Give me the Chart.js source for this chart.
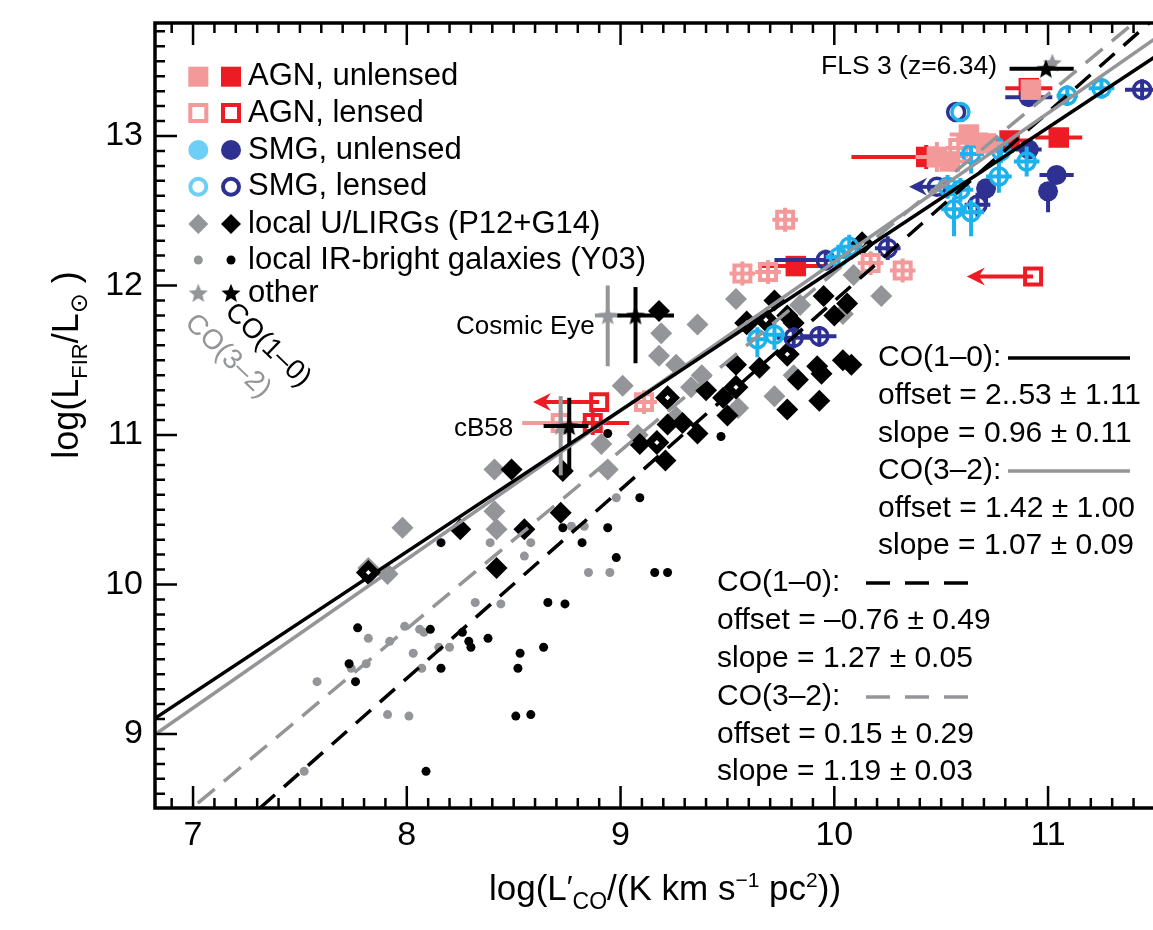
<!DOCTYPE html>
<html><head><meta charset="utf-8">
<script src="https://cdn.jsdelivr.net/npm/chart.js@4.4.1/dist/chart.umd.min.js"></script>
<style>html,body{margin:0;padding:0;background:#fff}canvas{display:block}</style>
</head><body>
<canvas id="c" width="1153" height="930"></canvas>
<script>
// ---------- DATA ----------
// rows: [x, y, xErrLow, xErrHigh, yErrLow, yErrHigh, leftArrowLength]
const X_TICKS = [7, 8, 9, 10, 11];
const Y_TICKS = [9, 10, 11, 12, 13];

const fitCO10All  = [[6.82, 9.103], [11.5, 13.53]];
const fitCO32All  = [[6.82, 8.995], [11.5, 13.65]];
const fitCO10Loc  = [[7.313, 8.505], [11.5, 13.79]];
const fitCO32Loc  = [[6.90, 8.392], [11.5, 13.875]];

const agnUnlensedCO32 = [
  [10.92, 13.31],
  [10.63, 13.01, 0.09, 0.09, 0.06, 0.06],
  [10.71, 12.95, 0.08, 0.08, 0.05, 0.05],
  [10.48, 12.86, 0.10, 0.10, 0.10, 0.10],
  [10.54, 12.83, 0.08, 0.08, 0.06, 0.06]
];
const agnUnlensedCO10 = [
  [11.05, 12.99, 0.11, 0.11, 0.06, 0.06],
  [10.82, 12.97, 0.10, 0.10],
  [10.43, 12.86, 0.35, 0.12, 0.08, 0.08],
  [9.82, 12.13, 0.16, 0.15],
  [10.91, 13.32, 0.11, 0.11]
];
const agnLensedCO32 = [
  [9.77, 12.44, 0.06, 0.06, 0.08, 0.08],
  [9.57, 12.08, 0.06, 0.06, 0.08, 0.08],
  [9.69, 12.09, 0.06, 0.06, 0.08, 0.08],
  [10.17, 12.15, 0.06, 0.06, 0.08, 0.08],
  [10.32, 12.10, 0.06, 0.06, 0.08, 0.08],
  [9.11, 11.22, 0.06, 0.06, 0.08, 0.08],
  [8.72, 11.08, 0.18, 0.10, 0.08, 0.08],
  [10.58, 12.92, 0.06, 0.06, 0.08, 0.08]
];
const agnLensedCO10 = [
  [10.93, 12.06, 0, 0, 0, 0, 0.31],
  [8.90, 11.22, 0, 0, 0, 0, 0.31],
  [8.87, 11.08, 0.08, 0.17, 0.08, 0.08]
];
const smgLensedCO32 = [
  [11.09, 13.27, 0.05, 0.05, 0.07, 0.07],
  [11.25, 13.32, 0.06, 0.06, 0.07, 0.07],
  [10.59, 13.16],
  [10.64, 12.88, 0.06, 0.06, 0.13, 0.13],
  [10.78, 12.90, 0.06, 0.06, 0.08, 0.08],
  [10.90, 12.83, 0.06, 0.06, 0.10, 0.10],
  [10.77, 12.73, 0.06, 0.06, 0.11, 0.26],
  [10.53, 12.66, 0.06, 0.06, 0.08, 0.08],
  [10.59, 12.64, 0.06, 0.06, 0.08, 0.08],
  [10.56, 12.51, 0.06, 0.06, 0.18, 0.08],
  [10.64, 12.49, 0.06, 0.06, 0.16, 0.08],
  [10.07, 12.26, 0.06, 0.06, 0.08, 0.08],
  [10.02, 12.19, 0.06, 0.06, 0.08, 0.08],
  [9.64, 11.64, 0.05, 0.05, 0.12, 0.08],
  [9.72, 11.67, 0.05, 0.05, 0.10, 0.08]
];
const smgLensedCO10 = [
  [11.44, 13.31, 0.08, 0.08, 0.07, 0.07],
  [10.57, 13.16],
  [10.25, 12.25, 0.06, 0.06, 0.08, 0.08],
  [9.96, 12.17, 0.24, 0.05, 0.07, 0.07],
  [10.67, 12.54, 0.06, 0.06, 0.08, 0.08],
  [10.48, 12.66, 0, 0, 0, 0, 0.13],
  [9.81, 11.65, 0.08, 0.08, 0.07, 0.07],
  [9.93, 11.66, 0.08, 0.08, 0.07, 0.07]
];
const smgUnlensedCO10 = [
  [10.91, 13.26, 0.11, 0.11],
  [10.91, 12.91, 0.06, 0.06, 0.06, 0.06],
  [11.04, 12.74, 0.08, 0.08, 0.05, 0.05],
  [11.00, 12.63, 0, 0, 0.14, 0.05],
  [10.71, 12.65, 0, 0, 0.12, 0.04]
];
const lirgCO32 = [
  [8.41, 10.77], [8.41, 10.49], [8.42, 10.37], [7.98, 10.38], [7.82, 10.11], [7.91, 10.07],
  [9.36, 11.74], [9.19, 11.68], [9.18, 11.53], [9.26, 11.47], [9.01, 11.33], [9.54, 11.91],
  [9.72, 11.26], [9.38, 11.40], [9.55, 11.18], [9.33, 11.32], [8.91, 10.94], [9.26, 11.12],
  [9.08, 11.00], [8.94, 10.77], [10.22, 11.93], [10.04, 11.81], [10.09, 12.07], [9.84, 11.87],
  [9.81, 11.40]
];
const lirgCO10 = [
  [8.49, 10.77], [8.25, 10.37], [8.55, 10.37], [8.42, 10.11], [9.18, 11.83], [9.72, 11.90],
  [9.54, 11.47], [9.65, 11.45], [9.40, 11.30], [9.48, 11.25], [9.50, 11.13], [9.29, 11.08],
  [9.36, 11.01], [9.22, 11.07], [9.21, 10.83], [9.09, 10.94], [8.73, 10.76], [8.72, 10.48],
  [9.78, 11.17], [9.93, 11.23], [9.95, 11.93], [10.06, 11.88], [10.00, 11.80], [9.78, 11.80],
  [9.81, 11.75], [10.04, 11.50], [10.08, 11.47], [9.92, 11.46], [9.83, 11.37], [9.94, 11.41]
];
const lirgCO10Lensed = [
  [7.82, 10.08], [9.59, 11.75], [9.68, 11.77], [9.22, 11.25], [9.17, 10.95], [9.54, 11.32],
  [10.13, 12.28], [9.78, 11.54]
];
const y03CO10 = [
  [8.16, 10.28], [7.77, 9.71], [8.11, 9.70], [8.26, 9.68], [8.29, 9.62], [8.30, 9.58],
  [8.38, 9.64], [8.66, 9.88], [8.64, 9.58], [7.73, 9.47], [7.76, 9.35], [8.16, 9.44],
  [8.53, 9.54], [8.52, 9.44], [8.51, 9.12], [8.58, 9.13], [8.09, 8.75], [8.94, 11.01],
  [9.47, 10.99], [9.09, 10.58], [8.73, 10.38], [8.94, 10.38], [8.82, 10.28], [8.98, 10.18],
  [9.16, 10.08], [9.22, 10.08], [8.74, 9.87]
];
const y03CO32 = [
  [8.39, 10.28], [8.58, 10.28], [8.55, 10.19], [8.32, 9.88], [8.44, 9.87], [7.82, 9.64],
  [7.99, 9.72], [8.06, 9.70], [8.08, 9.68], [7.92, 9.62], [8.15, 9.58], [8.20, 9.58],
  [8.03, 9.54], [7.74, 9.44], [7.81, 9.47], [8.07, 9.44], [7.58, 9.35], [7.91, 9.13],
  [8.01, 9.12], [7.52, 8.75], [8.98, 10.58], [8.77, 10.39], [8.83, 10.39], [8.85, 10.08],
  [8.95, 10.08]
];
const otherCO10 = [
  [10.99, 13.45, 0.17, 0.13],              // FLS 3
  [9.07, 11.80, 0.085, 0.18, 0.32, 0.19],  // Cosmic Eye
  [8.76, 11.06, 0.12, 0.09, 0.32, 0.19]    // cB58
];
const otherCO32 = [
  [11.02, 13.49],
  [8.94, 11.80, 0.06, 0.06, 0.34, 0.20],
  [8.72, 11.06, 0, 0, 0.33, 0.20]
];
const legendLabels = ['AGN, unlensed', 'AGN, lensed', 'SMG, unlensed', 'SMG, lensed',
  'local U/LIRGs (P12+G14)', 'local IR-bright galaxies (Y03)', 'other'];
const fitText1 = ['CO(1\u20130):', 'offset = 2..53 \u00b1 1.11', 'slope = 0.96 \u00b1 0.11',
  'CO(3\u20132):', 'offset = 1.42 \u00b1 1.00', 'slope = 1.07 \u00b1 0.09'];
const fitText2 = ['CO(1\u20130):', 'offset = \u20130.76 \u00b1 0.49', 'slope = 1.27 \u00b1 0.05',
  'CO(3\u20132):', 'offset = 0.15 \u00b1 0.29', 'slope = 1.19 \u00b1 0.03'];

// ---------- STYLE ----------
const FONT = "'Liberation Sans', Arial, Helvetica, 'DejaVu Sans', sans-serif";
const PINK = '#F4999A', RED = '#ED1C24', CYAN = '#6DCFF6', CYAN_RING = '#1DB2EC',
      NAVY = '#2E3192', GRAY = '#939598', BLACK = '#000000';
const X_MIN = 6.822, X_MAX = 11.491, Y_MIN = 8.505, Y_MAX = 13.756;

function toPts(arr) {
  return arr.map(r => ({x: r[0], y: r[1], exl: r[2] || 0, exh: r[3] || 0,
    eyl: r[4] || 0, eyh: r[5] || 0, lim: r[6] || 0}));
}
function starCanvas(color, size) {
  const c = document.createElement('canvas'); c.width = size; c.height = size;
  const g = c.getContext('2d'); g.fillStyle = color; g.beginPath();
  const R = size / 2, r = R * 0.45, cx = size / 2, cy = size / 2 + R * 0.08;
  for (let i = 0; i < 10; i++) {
    const a = -Math.PI / 2 + i * Math.PI / 5, rr = i % 2 ? r : R;
    g.lineTo(cx + rr * Math.cos(a), cy + rr * Math.sin(a));
  }
  g.closePath(); g.fill(); return c;
}
const starBlack = starCanvas(BLACK, 20), starGray = starCanvas(GRAY, 20);

function lineDs(arr, color, dash, order) {
  return {data: arr.map(p => ({x: p[0], y: p[1]})), showLine: true, borderColor: color,
    borderWidth: 3.5, borderDash: dash, pointRadius: 0, fill: false, order};
}
function ptDs(arr, style, order) {
  return Object.assign({data: toPts(arr), order, borderWidth: 0}, style);
}
const clear = 'rgba(0,0,0,0)';
const datasets = [
  lineDs(fitCO10All, BLACK, [], 0),
  lineDs(fitCO32All, GRAY, [], 1),
  lineDs(fitCO10Loc, BLACK, [20, 12], 2),
  lineDs(fitCO32Loc, GRAY, [22, 12], 3),
  ptDs(otherCO10, {pointStyle: starBlack, pointRadius: 10, errColor: BLACK}, 4),
  ptDs(otherCO32, {pointStyle: starGray, pointRadius: 10, errColor: GRAY}, 5),
  ptDs(agnUnlensedCO32, {pointStyle: 'rect', pointRadius: 14.5, backgroundColor: PINK, errColor: PINK}, 6),
  ptDs(smgLensedCO32, {pointStyle: 'circle', pointRadius: 8.5, backgroundColor: clear, borderColor: CYAN_RING, borderWidth: 3.5, errColor: CYAN_RING}, 7),
  ptDs(agnLensedCO32, {pointStyle: 'rect', pointRadius: 11.3, backgroundColor: clear, borderColor: PINK, borderWidth: 4, errColor: PINK}, 8),
  ptDs(smgLensedCO10, {pointStyle: 'circle', pointRadius: 8.5, backgroundColor: clear, borderColor: NAVY, borderWidth: 3.5, errColor: NAVY}, 9),
  ptDs(smgUnlensedCO10, {pointStyle: 'circle', pointRadius: 10, backgroundColor: NAVY, errColor: NAVY}, 10),
  ptDs(agnUnlensedCO10, {pointStyle: 'rect', pointRadius: 14.5, backgroundColor: RED, errColor: RED}, 11),
  ptDs(agnLensedCO10, {pointStyle: 'rect', pointRadius: 11.3, backgroundColor: clear, borderColor: RED, borderWidth: 4, errColor: RED}, 12),
  ptDs(lirgCO10Lensed, {pointStyle: 'rectRot', pointRadius: 7.5, backgroundColor: '#ffffff', borderColor: BLACK, borderWidth: 7}, 13),
  ptDs(lirgCO10, {pointStyle: 'rectRot', pointRadius: 11, backgroundColor: BLACK}, 14),
  ptDs(lirgCO32, {pointStyle: 'rectRot', pointRadius: 11, backgroundColor: GRAY}, 15),
  ptDs(y03CO10, {pointStyle: 'circle', pointRadius: 4.5, backgroundColor: BLACK}, 16),
  ptDs(y03CO32, {pointStyle: 'circle', pointRadius: 4.5, backgroundColor: GRAY}, 17)
];

// ---------- PLUGINS ----------
const errorBars = {
  id: 'errorBars',
  beforeDatasetDraw(chart, args) {
    const ds = chart.data.datasets[args.index];
    if (!ds.errColor) return;
    const xs = chart.scales.x, ys = chart.scales.y, ctx = chart.ctx, a = chart.chartArea;
    ctx.save(); ctx.beginPath(); ctx.rect(a.left, a.top, a.right - a.left, a.bottom - a.top); ctx.clip();
    ctx.strokeStyle = ds.errColor; ctx.fillStyle = ds.errColor; ctx.lineWidth = 4;
    ds.data.forEach(p => {
      const px = xs.getPixelForValue(p.x), py = ys.getPixelForValue(p.y);
      ctx.beginPath();
      if (p.exl || p.exh) { ctx.moveTo(xs.getPixelForValue(p.x - p.exl), py); ctx.lineTo(xs.getPixelForValue(p.x + p.exh), py); }
      if (p.eyl || p.eyh) { ctx.moveTo(px, ys.getPixelForValue(p.y - p.eyl)); ctx.lineTo(px, ys.getPixelForValue(p.y + p.eyh)); }
      ctx.stroke();
      if (p.lim) {
        const ex = xs.getPixelForValue(p.x - p.lim);
        ctx.beginPath(); ctx.moveTo(px, py); ctx.lineTo(ex + 8, py); ctx.stroke();
        ctx.beginPath(); ctx.moveTo(ex, py); ctx.lineTo(ex + 18, py - 9); ctx.lineTo(ex + 12, py);
        ctx.lineTo(ex + 18, py + 9); ctx.closePath(); ctx.fill();
      }
    });
    ctx.restore();
  }
};

const frame = {
  id: 'frame',
  afterDatasetsDraw(chart) {
    const ctx = chart.ctx, a = chart.chartArea, xs = chart.scales.x, ys = chart.scales.y;
    ctx.save(); ctx.strokeStyle = BLACK; ctx.lineWidth = 2.5;
    ctx.beginPath();
    for (let i = 69; i <= 115; i++) {
      const v = i / 10, px = xs.getPixelForValue(v);
      if (px < a.left + 1 || px > a.right) continue;
      const L = (i % 10 === 0) ? 22 : 10;
      ctx.moveTo(px, a.bottom); ctx.lineTo(px, a.bottom - L);
      ctx.moveTo(px, a.top); ctx.lineTo(px, a.top + L);
    }
    for (let i = 86; i <= 137; i++) {
      const v = i / 10, py = ys.getPixelForValue(v);
      if (py < a.top + 1 || py > a.bottom - 1) continue;
      const L = (i % 10 === 0) ? 22 : 10;
      ctx.moveTo(a.left, py); ctx.lineTo(a.left + L, py);
    }
    ctx.stroke();
    ctx.lineWidth = 3.5; ctx.beginPath();
    ctx.moveTo(a.right, a.top); ctx.lineTo(a.left, a.top); ctx.lineTo(a.left, a.bottom); ctx.lineTo(a.right, a.bottom);
    ctx.stroke(); ctx.restore();
  }
};

function drawRich(ctx, parts, x, y) {
  let w = 0;
  parts.forEach(p => { ctx.font = p.s + 'px ' + FONT; p.w = ctx.measureText(p.t).width; w += p.w; });
  let cx = x - w / 2;
  parts.forEach(p => { ctx.font = p.s + 'px ' + FONT; ctx.fillText(p.t, cx, y + (p.dy || 0)); cx += p.w; });
}

const annotations = {
  id: 'annotations',
  afterDraw(chart) {
    const ctx = chart.ctx;
    ctx.save();
    ctx.fillStyle = BLACK; ctx.textAlign = 'left'; ctx.textBaseline = 'alphabetic';
    // axis titles
    drawRich(ctx, [{t: 'log(L', s: 35}, {t: '\u2032', s: 31, dy: -2}, {t: 'CO', s: 23, dy: 9},
      {t: '/(K km s', s: 35}, {t: '\u22121', s: 21, dy: -13}, {t: ' pc', s: 35}, {t: '2', s: 21, dy: -13},
      {t: '))', s: 35}], 665, 900);
    ctx.save(); ctx.translate(78, 365); ctx.rotate(-Math.PI / 2);
    drawRich(ctx, [{t: 'log(L', s: 36}, {t: 'FIR', s: 22, dy: 9}, {t: '/L', s: 36},
      {t: '\u2299', s: 24, dy: 9}, {t: ' )', s: 36}], 0, 0);
    ctx.restore();

    // legend
    const rows = [76.7, 113, 150, 186.7, 224, 260, 293];
    const lx = 198.3, dx = 231;
    rows.forEach((ry, i) => {
      [[lx, true], [dx, false]].forEach(([mx, light]) => {
        ctx.save();
        if (i === 0) { ctx.fillStyle = light ? PINK : RED; ctx.fillRect(mx - 10, ry - 10, 20, 20); }
        if (i === 1) { ctx.strokeStyle = light ? PINK : RED; ctx.lineWidth = 4; ctx.strokeRect(mx - 8, ry - 8, 16, 16); }
        if (i === 2) { ctx.fillStyle = light ? CYAN : NAVY; ctx.beginPath(); ctx.arc(mx, ry, 10, 0, 2 * Math.PI); ctx.fill(); }
        if (i === 3) { ctx.strokeStyle = light ? CYAN : NAVY; ctx.lineWidth = 4; ctx.beginPath(); ctx.arc(mx, ry, 8, 0, 2 * Math.PI); ctx.stroke(); }
        if (i === 4) { ctx.fillStyle = light ? GRAY : BLACK; ctx.beginPath(); ctx.moveTo(mx - 10, ry); ctx.lineTo(mx, ry - 10); ctx.lineTo(mx + 10, ry); ctx.lineTo(mx, ry + 10); ctx.closePath(); ctx.fill(); }
        if (i === 5) { ctx.fillStyle = light ? GRAY : BLACK; ctx.beginPath(); ctx.arc(mx, ry, 4.5, 0, 2 * Math.PI); ctx.fill(); }
        if (i === 6) { ctx.drawImage(light ? starGray : starBlack, mx - 10, ry - 10); }
        ctx.restore();
      });
      ctx.font = '31px ' + FONT; ctx.textBaseline = 'middle'; ctx.fillStyle = BLACK;
      ctx.fillText(legendLabels[i], 248, ry);
    });

    // object labels
    ctx.textBaseline = 'middle';
    ctx.font = '26.5px ' + FONT; ctx.fillText('FLS 3 (z=6.34)', 821, 67);
    ctx.font = '26px ' + FONT; ctx.fillText('Cosmic Eye', 456, 327); ctx.fillText('cB58', 454, 429);

    // fit text blocks
    ctx.font = '30px ' + FONT;
    const r1 = [358, 396, 434, 471, 509, 546];
    fitText1.forEach((t, i) => ctx.fillText(t, 878, r1[i]));
    const r2 = [583, 621, 659, 697, 735, 772];
    fitText2.forEach((t, i) => ctx.fillText(t, 717, r2[i]));
    ctx.lineWidth = 3.5;
    const sample = (x0, x1, y, col, dash) => { ctx.save(); ctx.strokeStyle = col; ctx.setLineDash(dash); ctx.beginPath(); ctx.moveTo(x0, y); ctx.lineTo(x1, y); ctx.stroke(); ctx.restore(); };
    sample(1008, 1130, 358, BLACK, []);
    sample(1008, 1130, 471, GRAY, []);
    sample(866, 976, 583, BLACK, [24, 15]);
    sample(866, 976, 697, GRAY, [24, 15]);

    // rotated line labels
    ctx.font = '28px ' + FONT; ctx.textBaseline = 'middle';
    ctx.save(); ctx.translate(189, 319); ctx.rotate(44 * Math.PI / 180); ctx.fillStyle = GRAY; ctx.fillText('CO(3\u20132)', 0, 0); ctx.restore();
    ctx.save(); ctx.translate(229, 308); ctx.rotate(44 * Math.PI / 180); ctx.fillStyle = BLACK; ctx.fillText('CO(1\u20130)', 0, 0); ctx.restore();
    ctx.restore();
  }
};

new Chart(document.getElementById('c'), {
  type: 'scatter',
  data: {datasets},
  options: {
    responsive: false, animation: false, events: [],
    layout: {autoPadding: false, padding: {top: 23, right: 0, left: 0, bottom: 0}},
    plugins: {legend: {display: false}, tooltip: {enabled: false}},
    scales: {
      x: {
        type: 'linear', min: X_MIN, max: X_MAX,
        afterBuildTicks(s) { s.ticks = X_TICKS.map(v => ({value: v})); },
        afterFit(s) { s.height = 122; s.paddingLeft = 0; s.paddingRight = 0; },
        grid: {display: false, drawTicks: false}, border: {display: false},
        ticks: {color: BLACK, font: {family: FONT, size: 34}, padding: 7, maxRotation: 0, autoSkip: false}
      },
      y: {
        type: 'linear', min: Y_MIN, max: Y_MAX,
        afterBuildTicks(s) { s.ticks = Y_TICKS.map(v => ({value: v})); },
        afterFit(s) { s.width = 155; s.paddingTop = 0; s.paddingBottom = 0; },
        grid: {display: false, drawTicks: false}, border: {display: false},
        ticks: {color: BLACK, font: {family: FONT, size: 34}, padding: 12, autoSkip: false}
      }
    }
  },
  plugins: [errorBars, frame, annotations]
});
</script>
</body></html>
